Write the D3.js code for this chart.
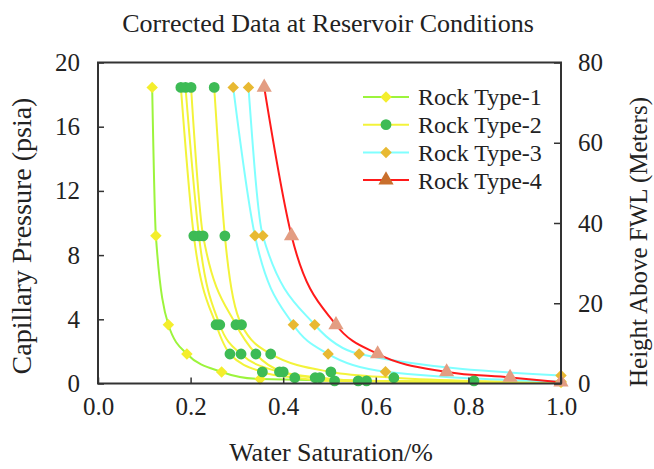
<!DOCTYPE html>
<html><head><meta charset="utf-8">
<script src="https://cdn.jsdelivr.net/npm/d3@7"></script>
<style>body{margin:0;background:#fff}svg{display:block}</style>
</head><body><svg id="c" width="654" height="469"></svg>
<script>
const title = "Corrected Data at Reservoir Conditions";
const xTicks = [0, 0.2, 0.4, 0.6, 0.8, 1.0];
const yTicks = [0, 4, 8, 12, 16, 20];
const yRightTicks = [0, 20, 40, 60, 80];
const seriesNames = ["Rock Type-1", "Rock Type-2", "Rock Type-3", "Rock Type-4"];

// Rock Type-1 (one sample)
const swRT1 = [[0.117, 0.125, 0.152, 0.192, 0.267, 0.350, 1.0]];
const pcRT1 = [[18.45, 9.2, 3.66, 1.84, 0.72, 0.28, 0.06]];
const tailRT1 = [null];
// Rock Type-2 (four samples)
const swRT2 = [
  [0.179, 0.207, 0.255, 0.285, 0.355, 0.425, 0.511],
  [0.189, 0.218, 0.263, 0.309, 0.392, 0.469, 0.562],
  [0.201, 0.227, 0.298, 0.341, 0.400, 0.479, 0.580],
  [0.251, 0.274, 0.310, 0.373, 0.503, 0.639, 0.812]];
const pcRT2 = [
  [18.45, 9.2, 3.66, 1.84, 0.72, 0.36, 0.16],
  [18.45, 9.2, 3.66, 1.84, 0.72, 0.36, 0.16],
  [18.45, 9.2, 3.66, 1.84, 0.72, 0.36, 0.16],
  [18.45, 9.2, 3.66, 1.84, 0.72, 0.36, 0.16]];
const tailRT2 = [0.03, 0.05, 0.07, 0.10];
// Rock Type-3 (two samples)
const swRT3 = [
  [0.292, 0.339, 0.422, 0.497, 0.621, 1.0],
  [0.325, 0.356, 0.468, 0.564, 1.0]];
const pcRT3 = [
  [18.45, 9.2, 3.66, 1.84, 0.73, 0.12],
  [18.45, 9.2, 3.66, 1.84, 0.50]];
const tailRT3 = [null, null];
// Rock Type-4 (one sample)
const swRT4 = [[0.359, 0.418, 0.514, 0.604, 0.753, 0.890, 1.0]];
const pcRT4 = [[18.45, 9.2, 3.66, 1.84, 0.72, 0.38, 0.08]];
const tailRT4 = [null];

const lineColors = ["#9cf43c", "#f3f33a", "#80ffff", "#ff1a1a"];
const markerColors = ["#f4ee2c", "#3dbb55", "#e8b932", "#e39d82"];
const legendMarkerColors = ["#f4ee2c", "#3dbb55", "#e8b932", "#c96f2c"];
const markerShapes = [d3.symbolSquare, d3.symbolCircle, d3.symbolSquare, d3.symbolTriangle];
const markerRotate = [45, 0, 45, 0];
const markerSizes = [66, 92, 66, 100];

const groups = [
  {sw: swRT1, pc: pcRT1, tail: tailRT1},
  {sw: swRT2, pc: pcRT2, tail: tailRT2},
  {sw: swRT3, pc: pcRT3, tail: tailRT3},
  {sw: swRT4, pc: pcRT4, tail: tailRT4}];

const FONT = '"Liberation Serif", Tinos, "Times New Roman", "DejaVu Serif", serif';
const svg = d3.select("#c");
const L = 98, R = 561, T = 62.5, B = 383.5;
const x = d3.scaleLinear().domain([0, 1]).range([L, R]);
const y = d3.scaleLinear().domain([0, 20]).range([B, T]);
const y2 = d3.scaleLinear().domain([0, 80]).range([B, T]);

function txt(sel) { return sel.attr("font-family", FONT).attr("fill", "#222"); }

txt(svg.append("text")).attr("x", 328).attr("y", 32).attr("text-anchor", "middle")
  .attr("font-size", 26).text(title);

// lines
const lineGen = d3.line().x(d => x(d[0])).y(d => y(d[1])).curve(d3.curveMonotoneX);
const lineLayer = svg.append("g");
const markLayer = svg.append("g");
groups.forEach((g, gi) => {
  g.sw.forEach((sws, si) => {
    const pts = sws.map((s, i) => [s, g.pc[si][i]]);
    if (g.tail[si] != null) pts.push([1.0, g.tail[si]]);
    pts.sort((a, b) => a[0] - b[0]);
    lineLayer.append("path").attr("d", lineGen(pts)).attr("fill", "none")
      .attr("stroke", lineColors[gi]).attr("stroke-width", 2);
  });
});
groups.forEach((g, gi) => {
  g.sw.forEach((sws, si) => {
    sws.forEach((s, i) => {
      markLayer.append("path")
        .attr("d", d3.symbol().type(markerShapes[gi]).size(markerSizes[gi])())
        .attr("transform", `translate(${x(s)},${y(g.pc[si][i])}) rotate(${markerRotate[gi]})`)
        .attr("fill", markerColors[gi]);
    });
  });
});

// frame
svg.append("rect").attr("x", L).attr("y", T).attr("width", R - L).attr("height", B - T)
  .attr("fill", "none").attr("stroke", "#333").attr("stroke-width", 2);

// axes
const ax = svg.append("g").attr("transform", `translate(0,${B})`)
  .call(d3.axisBottom(x).tickValues(xTicks).tickFormat(d3.format(".1f")).tickSizeInner(-6).tickSizeOuter(0).tickPadding(14));
const ay = svg.append("g").attr("transform", `translate(${L},0)`)
  .call(d3.axisLeft(y).tickValues(yTicks).tickSizeInner(-6).tickSizeOuter(0).tickPadding(18));
const ay2 = svg.append("g").attr("transform", `translate(${R},0)`)
  .call(d3.axisRight(y2).tickValues(yRightTicks).tickSizeInner(-7).tickSizeOuter(0).tickPadding(17));
[ax, ay, ay2].forEach(a => {
  a.select(".domain").remove();
  a.attr("font-family", FONT).attr("font-size", 25);
  a.selectAll(".tick line").attr("stroke", "#333").attr("stroke-width", 1.5);
  a.selectAll(".tick text").attr("fill", "#222");
});

// axis titles
txt(svg.append("text")).attr("x", 331).attr("y", 461).attr("text-anchor", "middle")
  .attr("font-size", 26).text("Water Saturation/%");
txt(svg.append("text")).attr("transform", `translate(31,236) rotate(-90)`).attr("text-anchor", "middle")
  .attr("font-size", 28).text("Capillary Pressure (psia)");
txt(svg.append("text")).attr("transform", `translate(647,242) rotate(-90)`).attr("text-anchor", "middle")
  .attr("font-size", 25).text("Height Above FWL (Meters)");

// legend
const leg = svg.append("g");
seriesNames.forEach((n, i) => {
  const ly = 97 + i * 27.7;
  leg.append("line").attr("x1", 363).attr("x2", 409).attr("y1", ly).attr("y2", ly)
    .attr("stroke", lineColors[i]).attr("stroke-width", 2);
  leg.append("path").attr("d", d3.symbol().type(markerShapes[i]).size(markerSizes[i])())
    .attr("transform", `translate(386,${ly}) rotate(${markerRotate[i]})`).attr("fill", legendMarkerColors[i]);
  txt(leg.append("text")).attr("x", 418).attr("y", ly).attr("dy", "0.35em")
    .attr("font-size", 24).text(n);
});
</script></body></html>
